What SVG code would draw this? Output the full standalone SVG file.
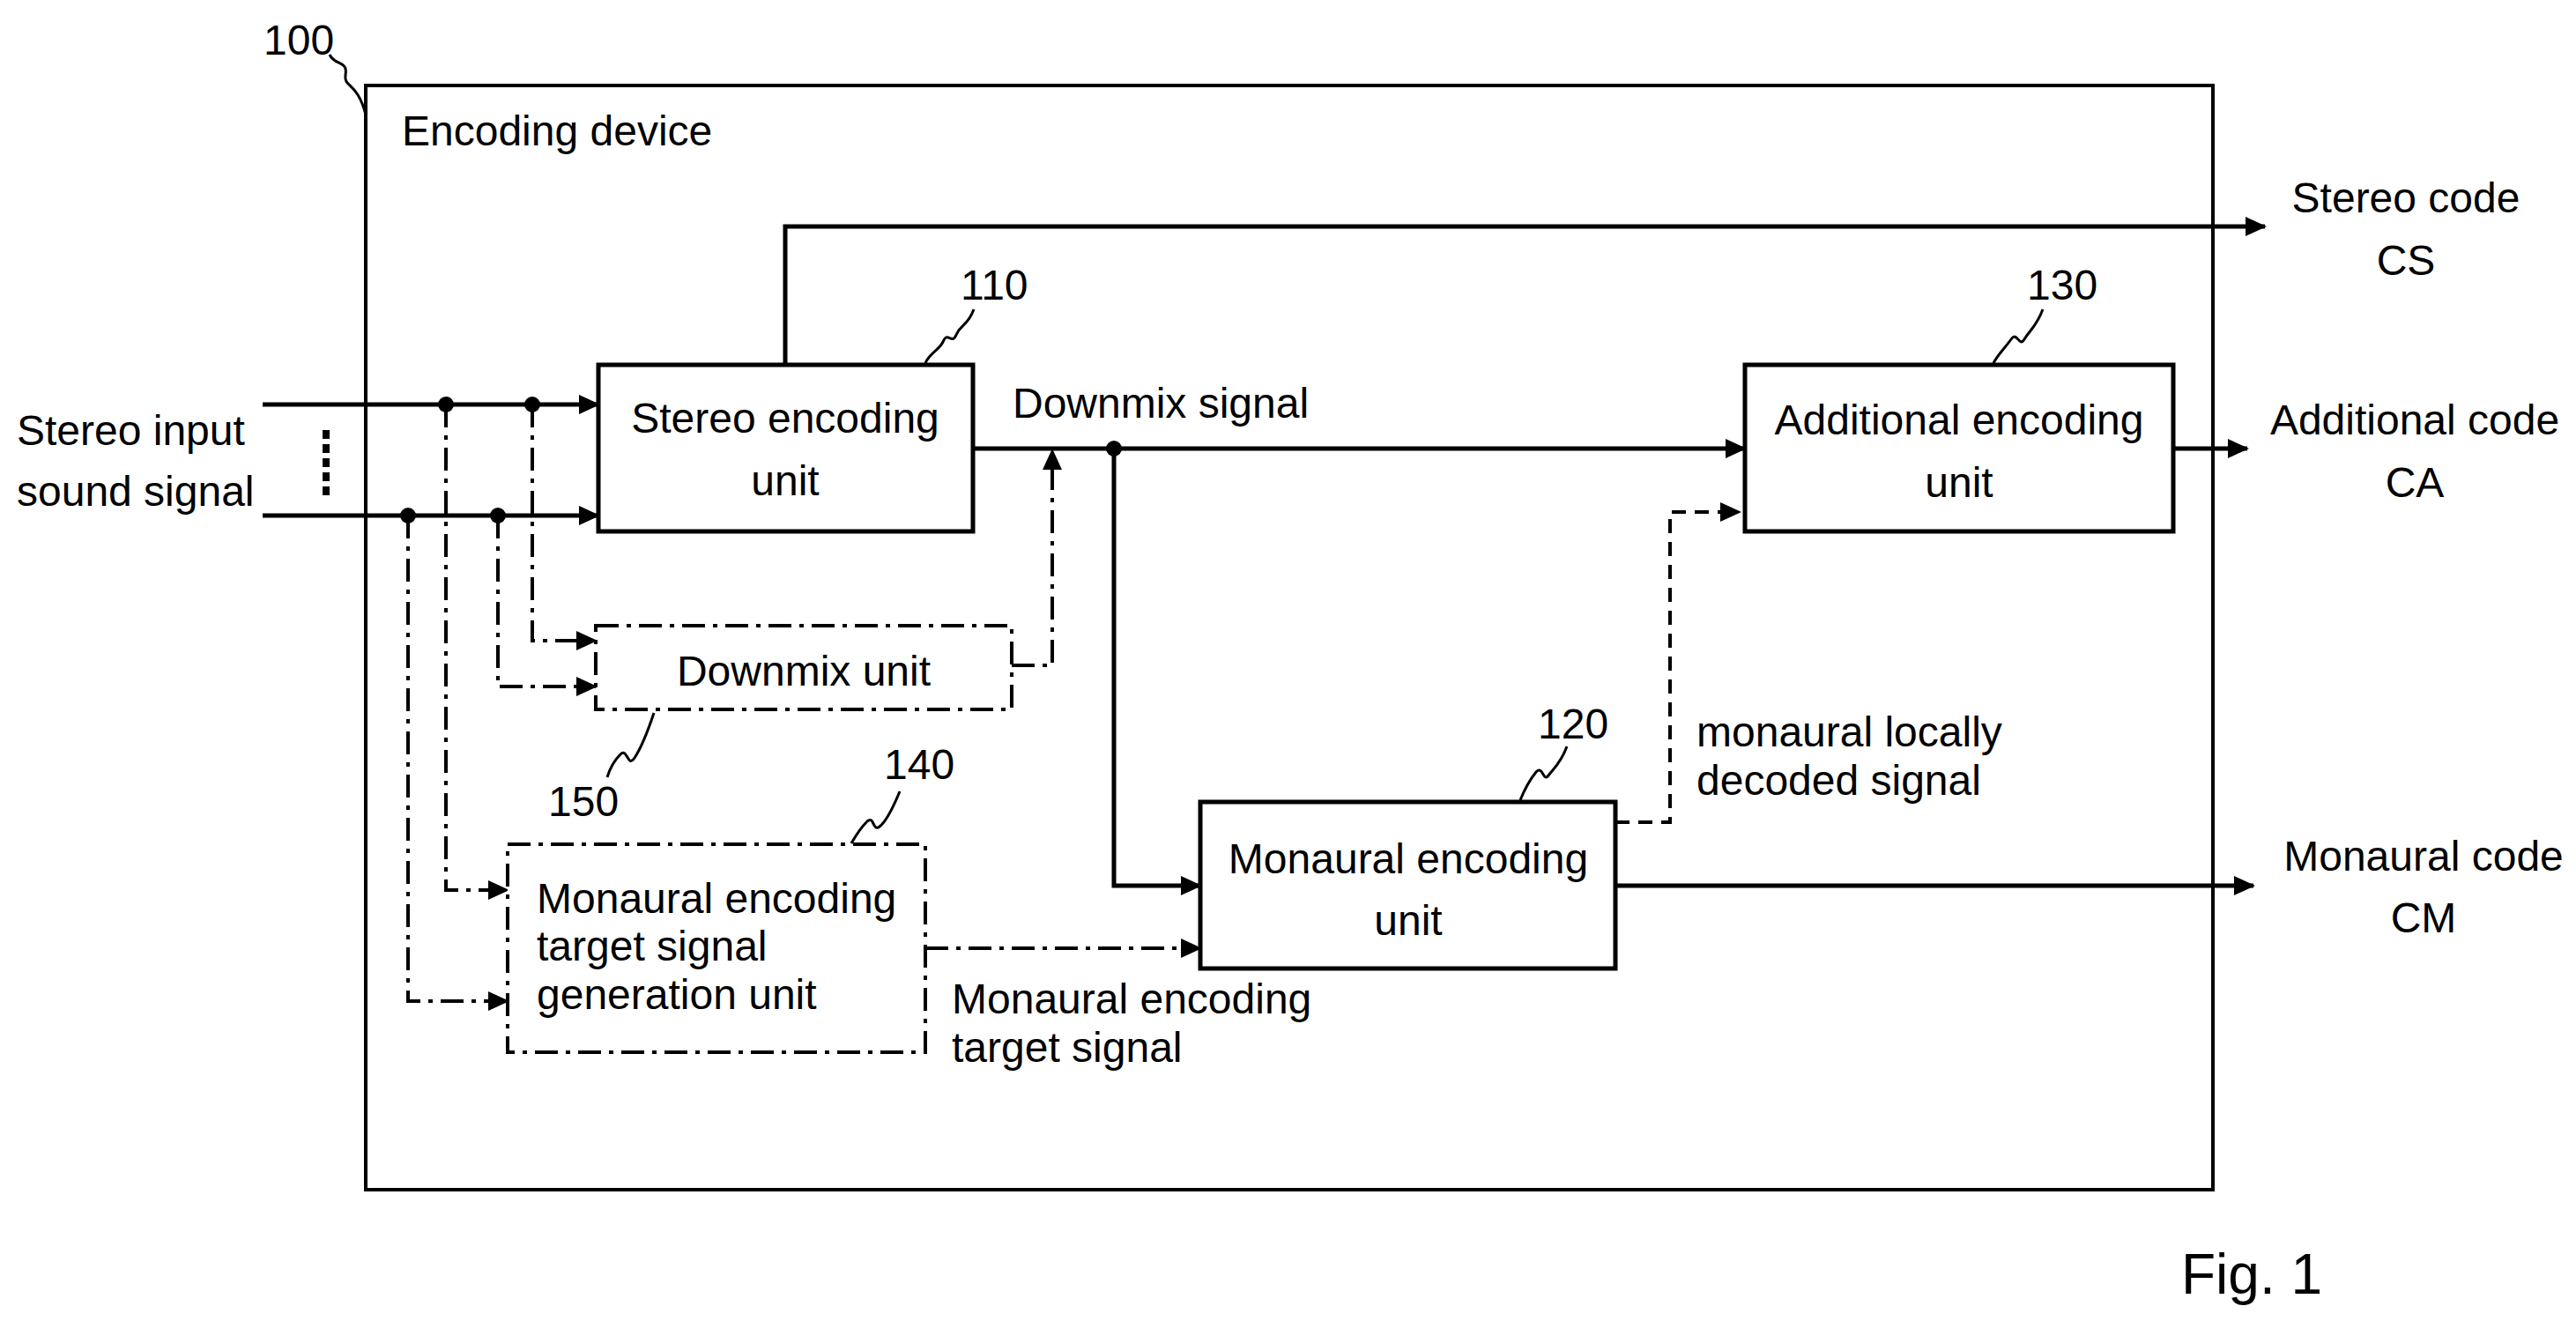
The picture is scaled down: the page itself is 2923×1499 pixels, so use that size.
<svg xmlns="http://www.w3.org/2000/svg" width="2923" height="1499" viewBox="0 0 2923 1499">
<style>
text{font-family:"Liberation Sans",Arial,sans-serif;font-size:48px;fill:#000}
.c{text-anchor:middle}
.box{fill:#fff;stroke:#000;stroke-width:5}
.dd{fill:#fff;stroke:#000;stroke-width:4;stroke-dasharray:26 9 5 9}
.ln{fill:none;stroke:#000;stroke-width:5}
.dl{fill:none;stroke:#000;stroke-width:4;stroke-dasharray:26 9 5 9}
.da{fill:none;stroke:#000;stroke-width:4;stroke-dasharray:16 10}
.sq{fill:none;stroke:#000;stroke-width:3}
</style>
<defs>
<marker id="a" markerUnits="userSpaceOnUse" markerWidth="24" markerHeight="22" refX="22" refY="11" orient="auto"><path d="M0,0 L24,11 L0,22 Z" fill="#000"/></marker>
</defs>
<rect width="2923" height="1499" fill="#fff"/>
<g id="device100">
<rect x="415" y="97" width="2096" height="1253" fill="none" stroke="#000" stroke-width="4"/>
<text x="456" y="165">Encoding device</text>
<text x="299" y="62">100</text>
<path class="sq" d="M374,62 C380,75 395,68 392,85 C390,100 405,92 415,130"/>
</g>
<g id="connectors">
<path class="ln" d="M298,459 H679" marker-end="url(#a)"/>
<path class="ln" d="M298,585 H679" marker-end="url(#a)"/>
<path d="M370,488 V562" stroke="#000" stroke-width="8" stroke-dasharray="10 6" fill="none"/>
<circle cx="506" cy="459" r="9"/><circle cx="604" cy="459" r="9"/>
<circle cx="463" cy="585" r="9"/><circle cx="565" cy="585" r="9"/>
<path class="dl" d="M604,459 V727 H676" marker-end="url(#a)"/>
<path class="dl" d="M565,585 V779 H676" marker-end="url(#a)"/>
<path class="dl" d="M506,459 V1010 H576" marker-end="url(#a)"/>
<path class="dl" d="M463,585 V1136 H576" marker-end="url(#a)"/>
<path class="dl" d="M1148,755 H1194 V511" marker-end="url(#a)"/>
<path class="ln" d="M891,414 V257 H2570" marker-end="url(#a)"/>
<path class="ln" d="M1104,509 H1980" marker-end="url(#a)"/>
<circle cx="1264" cy="509" r="9"/>
<path class="ln" d="M1264,509 V1005 H1362" marker-end="url(#a)"/>
<path class="dl" d="M1050,1076 H1362" marker-end="url(#a)"/>
<path class="da" d="M1833,933 H1895 V581 H1974" marker-end="url(#a)"/>
<path class="ln" d="M2466,509 H2550" marker-end="url(#a)"/>
<path class="ln" d="M1833,1005 H2557" marker-end="url(#a)"/>
<text x="1149" y="474">Downmix signal</text>
<text x="1925" y="847">monaural locally</text>
<text x="1925" y="902">decoded signal</text>
<text x="1080" y="1150">Monaural encoding</text>
<text x="1080" y="1205">target signal</text>
</g>
<g id="input">
<text x="19" y="505">Stereo input</text>
<text x="19" y="574">sound signal</text>
</g>
<g id="n110">
<rect class="box" x="679" y="414" width="425" height="189"/>
<text class="c" x="891" y="491">Stereo encoding</text>
<text class="c" x="891" y="562">unit</text>
<text x="1090" y="340">110</text>
<path class="sq" d="M1105,351 C1098,370 1090,368 1085,380 C1080,392 1075,375 1070,388 C1065,398 1055,400 1050,412"/>
</g>
<g id="n150">
<rect class="dd" x="676" y="710" width="472" height="95"/>
<text class="c" x="912" y="778">Downmix unit</text>
<text x="622" y="926">150</text>
<path class="sq" d="M742,809 C735,830 728,848 720,860 C712,872 712,848 704,856 C698,862 692,872 689,882"/>
</g>
<g id="n140">
<rect class="dd" x="576" y="958" width="474" height="236"/>
<text x="609" y="1036">Monaural encoding</text>
<text x="609" y="1090">target signal</text>
<text x="609" y="1145">generation unit</text>
<text x="1003" y="884">140</text>
<path class="sq" d="M1021,898 C1014,915 1006,932 998,938 C990,944 992,925 984,932 C976,940 970,950 966,957"/>
</g>
<g id="n120">
<rect class="box" x="1362" y="910" width="471" height="189"/>
<text class="c" x="1598" y="991">Monaural encoding</text>
<text class="c" x="1598" y="1061">unit</text>
<text x="1745" y="838">120</text>
<path class="sq" d="M1778,847 C1771,866 1763,872 1757,880 C1751,888 1751,868 1743,876 C1735,886 1729,898 1725,908"/>
</g>
<g id="n130">
<rect class="box" x="1980" y="414" width="486" height="189"/>
<text class="c" x="2223" y="493">Additional encoding</text>
<text class="c" x="2223" y="564">unit</text>
<text x="2300" y="340">130</text>
<path class="sq" d="M2318,351 C2311,370 2303,375 2297,385 C2291,395 2289,375 2282,385 C2275,395 2267,402 2262,412"/>
</g>
<g id="outputs">
<text class="c" x="2730" y="241">Stereo code</text>
<text class="c" x="2730" y="312">CS</text>
<text class="c" x="2740" y="493">Additional code</text>
<text class="c" x="2740" y="564">CA</text>
<text class="c" x="2750" y="988">Monaural code</text>
<text class="c" x="2750" y="1058">CM</text>
</g>
<text x="2475" y="1468" style="font-size:64px">Fig. 1</text>
</svg>
